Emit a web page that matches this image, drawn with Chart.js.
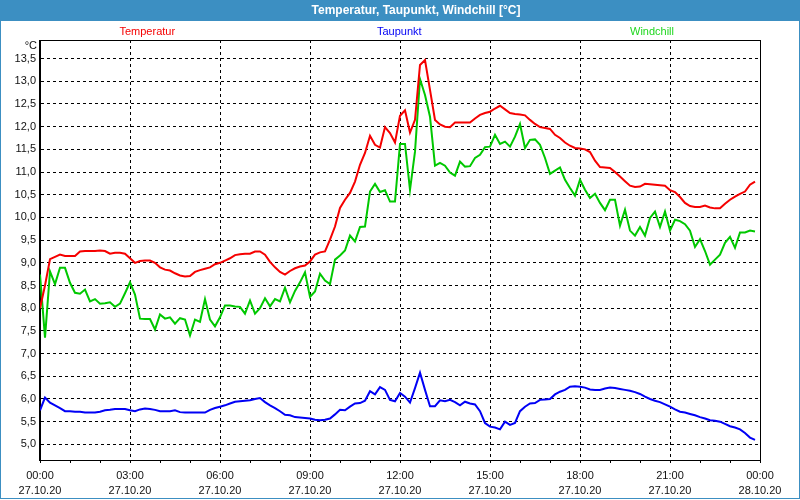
<!DOCTYPE html>
<html><head><meta charset="utf-8">
<script src="https://cdn.jsdelivr.net/npm/chart.js@4"></script>
<style>html,body{margin:0;padding:0;background:#fff;overflow:hidden}</style>
</head><body>
<canvas id="c" width="800" height="500"></canvas>
<script>
const chartTitle = 'Temperatur, Taupunkt, Windchill [°C]';
const seriesNames = ['Temperatur', 'Taupunkt', 'Windchill'];
const unitLabel = '°C';
const stepMinutes = 10; // one reading every 10 minutes, starting 27.10.20 00:00

const temperatur = [
  8.00, 8.50, 9.08, 9.13, 9.18, 9.15, 9.15, 9.15, 9.25, 9.26, 9.26, 9.26, 9.27, 9.26, 9.20, 9.22,
  9.22, 9.20, 9.10, 9.00, 9.04, 9.05, 9.05, 9.00, 8.90, 8.85, 8.83, 8.77, 8.72, 8.70, 8.71, 8.80,
  8.84, 8.87, 8.90, 8.97, 9.00, 9.05, 9.10, 9.17, 9.19, 9.20, 9.20, 9.25, 9.25, 9.18, 9.02, 8.90,
  8.80, 8.74, 8.82, 8.88, 8.92, 8.94, 9.03, 9.18, 9.23, 9.25, 9.51, 9.80, 10.21, 10.39, 10.54, 10.79,
  11.16, 11.42, 11.80, 11.60, 11.54, 11.99, 11.86, 11.65, 12.24, 12.36, 11.87, 12.15, 13.36, 13.47, 12.81, 12.15,
  12.05, 12.00, 11.99, 12.09, 12.09, 12.09, 12.09, 12.18, 12.26, 12.30, 12.33, 12.40, 12.46, 12.38, 12.30, 12.28,
  12.27, 12.25, 12.15, 12.06, 11.99, 11.97, 11.95, 11.82, 11.75, 11.65, 11.58, 11.53, 11.52, 11.50, 11.44, 11.25,
  11.11, 11.10, 11.09, 11.00, 10.90, 10.80, 10.70, 10.67, 10.68, 10.74, 10.73, 10.72, 10.71, 10.70, 10.60, 10.56,
  10.45, 10.32, 10.25, 10.23, 10.23, 10.26, 10.22, 10.20, 10.20, 10.30, 10.39, 10.46, 10.52, 10.57, 10.72, 10.79
];
const taupunkt = [
  5.75, 6.03, 5.92, 5.86, 5.80, 5.73, 5.73, 5.72, 5.72, 5.70, 5.70, 5.70, 5.72, 5.75, 5.76, 5.78,
  5.78, 5.78, 5.75, 5.73, 5.77, 5.79, 5.78, 5.76, 5.73, 5.73, 5.73, 5.75, 5.71, 5.70, 5.70, 5.70,
  5.70, 5.70, 5.76, 5.80, 5.83, 5.86, 5.90, 5.94, 5.95, 5.96, 5.97, 6.00, 6.02, 5.93, 5.86, 5.80,
  5.73, 5.65, 5.64, 5.60, 5.59, 5.58, 5.57, 5.54, 5.53, 5.54, 5.57, 5.66, 5.76, 5.75, 5.83, 5.90,
  5.91, 5.96, 6.17, 6.10, 6.26, 6.20, 5.98, 5.95, 6.13, 6.05, 5.92, 6.24, 6.58, 6.20, 5.84, 5.84,
  5.97, 5.95, 5.98, 5.93, 5.86, 5.94, 5.90, 5.88, 5.73, 5.47, 5.39, 5.37, 5.33, 5.50, 5.43, 5.47,
  5.73, 5.83, 5.90, 5.91, 5.98, 5.99, 6.00, 6.10, 6.16, 6.20, 6.27, 6.28, 6.27, 6.25, 6.21, 6.20,
  6.20, 6.23, 6.25, 6.24, 6.22, 6.20, 6.18, 6.15, 6.11, 6.05, 6.00, 5.96, 5.93, 5.88, 5.83, 5.77,
  5.72, 5.70, 5.67, 5.64, 5.60, 5.57, 5.53, 5.52, 5.50, 5.45, 5.40, 5.37, 5.33, 5.25, 5.15, 5.10
];
const windchill = [
  8.74, 7.35, 8.81, 8.53, 8.89, 8.89, 8.56, 8.34, 8.32, 8.41, 8.15, 8.20, 8.10, 8.11, 8.13, 8.03,
  8.10, 8.33, 8.57, 8.30, 7.77, 7.76, 7.76, 7.53, 7.86, 7.77, 7.80, 7.66, 7.78, 7.75, 7.40, 7.75,
  7.70, 8.20, 7.75, 7.60, 7.80, 8.06, 8.06, 8.04, 8.03, 7.88, 8.17, 7.88, 8.00, 8.22, 8.04, 8.20,
  8.15, 8.45, 8.13, 8.38, 8.57, 8.79, 8.25, 8.37, 8.76, 8.61, 8.53, 9.07, 9.16, 9.27, 9.60, 9.47,
  9.79, 9.80, 10.57, 10.74, 10.56, 10.60, 10.35, 10.35, 11.62, 11.62, 10.61, 11.45, 13.05, 12.70, 12.22, 11.14,
  11.20, 11.14, 10.99, 10.92, 11.23, 11.12, 11.13, 11.31, 11.38, 11.55, 11.56, 11.82, 11.62, 11.67, 11.56, 11.78,
  12.06, 11.53, 11.71, 11.72, 11.60, 11.31, 10.96, 11.03, 11.10, 10.83, 10.65, 10.48, 10.83, 10.61, 10.43, 10.52,
  10.32, 10.16, 10.39, 10.39, 9.82, 10.17, 9.71, 9.60, 9.79, 9.60, 9.99, 10.13, 9.79, 10.13, 9.71, 9.95,
  9.92, 9.85, 9.71, 9.35, 9.52, 9.26, 8.96, 9.07, 9.18, 9.44, 9.57, 9.33, 9.67, 9.67, 9.71, 9.69
];

const yTickValues = [5.0, 5.5, 6.0, 6.5, 7.0, 7.5, 8.0, 8.5, 9.0, 9.5, 10.0, 10.5, 11.0, 11.5, 12.0, 12.5, 13.0, 13.5];
const xTickMinutes = [0, 180, 360, 540, 720, 900, 1080, 1260, 1440];
const xTickTimes = ['00:00', '03:00', '06:00', '09:00', '12:00', '15:00', '18:00', '21:00', '00:00'];
const xTickDates = ['27.10.20', '27.10.20', '27.10.20', '27.10.20', '27.10.20', '27.10.20', '27.10.20', '27.10.20', '28.10.20'];

const colors = {
  temperatur: 'rgb(245,0,0)',
  taupunkt: 'rgb(0,0,245)',
  windchill: 'rgb(0,200,0)',
  legendGreen: 'rgb(30,215,30)',
  bar: 'rgb(60,143,194)'
};
const FONT = '"Liberation Sans", Arial, sans-serif';

const toPoints = arr => arr.map((v, i) => ({ x: i * stepMinutes, y: v }));

const decorPlugin = {
  id: 'decor',
  beforeDraw(chart) {
    const ctx = chart.ctx, W = chart.width, H = chart.height, a = chart.chartArea;
    ctx.save();
    ctx.fillStyle = '#ffffff';
    ctx.fillRect(0, 0, W, H);
    ctx.fillStyle = colors.bar;
    ctx.fillRect(0, 0, W, 21);
    ctx.strokeStyle = colors.bar;
    ctx.lineWidth = 1;
    ctx.strokeRect(0.5, 0.5, W - 1, H - 2);
    ctx.fillStyle = '#ffffff';
    ctx.font = 'bold 12px ' + FONT;
    ctx.textAlign = 'center';
    ctx.textBaseline = 'middle';
    ctx.fillText(chartTitle, 416, 11);
    ctx.font = '11px ' + FONT;
    const legendColors = [colors.temperatur, colors.taupunkt, colors.legendGreen];
    const fr = [0.149, 0.499, 0.85];
    seriesNames.forEach((n, i) => {
      ctx.fillStyle = legendColors[i];
      ctx.fillText(n, a.left + fr[i] * (a.right - a.left), 32);
    });
    ctx.fillStyle = '#111';
    ctx.textAlign = 'right';
    ctx.fillText(unitLabel, 37, 46);
    ctx.restore();
  },
  afterDraw(chart) {
    const ctx = chart.ctx, a = chart.chartArea;
    ctx.save();
    ctx.strokeStyle = '#000';
    ctx.lineWidth = 1;
    ctx.strokeRect(Math.round(a.left) - 0.5, Math.round(a.top) + 0.5, Math.round(a.right - a.left) + 1, Math.round(a.bottom - a.top));
    ctx.restore();
  }
};

new Chart(document.getElementById('c'), {
  type: 'line',
  data: {
    datasets: [
      { label: seriesNames[0], data: toPoints(temperatur), borderColor: colors.temperatur, borderWidth: 2, pointRadius: 0, tension: 0 },
      { label: seriesNames[1], data: toPoints(taupunkt), borderColor: colors.taupunkt, borderWidth: 2, pointRadius: 0, tension: 0 },
      { label: seriesNames[2], data: toPoints(windchill), borderColor: colors.windchill, borderWidth: 2, pointRadius: 0, tension: 0 }
    ]
  },
  options: {
    responsive: false,
    animation: false,
    events: [],
    layout: { padding: { top: 40, right: 40, left: 0, bottom: 0 } },
    plugins: { legend: { display: false }, title: { display: false }, tooltip: { enabled: false } },
    scales: {
      x: {
        type: 'linear', min: 0, max: 1440,
        afterBuildTicks: s => {
          const t = [];
          for (let m = 0; m <= 1440; m += 60) t.push({ value: m });
          s.ticks = t;
        },
        afterFit: s => { s.height = 40; },
        ticks: {
          autoSkip: false, maxRotation: 0, minRotation: 0, padding: 6, color: '#111',
          font: { family: FONT, size: 11, lineHeight: 1.32 },
          callback: v => {
            const k = xTickMinutes.indexOf(v);
            return k >= 0 ? [xTickTimes[k], xTickDates[k]] : '';
          }
        },
        grid: {
          color: c => (c.tick && xTickMinutes.indexOf(c.tick.value) >= 0) ? '#000' : 'rgba(0,0,0,0)',
          tickColor: '#000', tickLength: 3, lineWidth: 1
        },
        border: { display: true, color: '#000', width: 1, dash: [3, 3] }
      },
      y: {
        type: 'linear', min: 4.655, max: 13.91,
        afterBuildTicks: s => { s.ticks = yTickValues.map(v => ({ value: v })); },
        afterFit: s => { s.width = 40; },
        ticks: {
          padding: 4, color: '#111', font: { family: FONT, size: 11 },
          callback: v => v.toFixed(1).replace('.', ',')
        },
        grid: { color: '#000', drawTicks: false, lineWidth: 1 },
        border: { display: true, color: '#000', width: 1, dash: [3, 3] }
      }
    }
  },
  plugins: [decorPlugin]
});
</script>
</body></html>
